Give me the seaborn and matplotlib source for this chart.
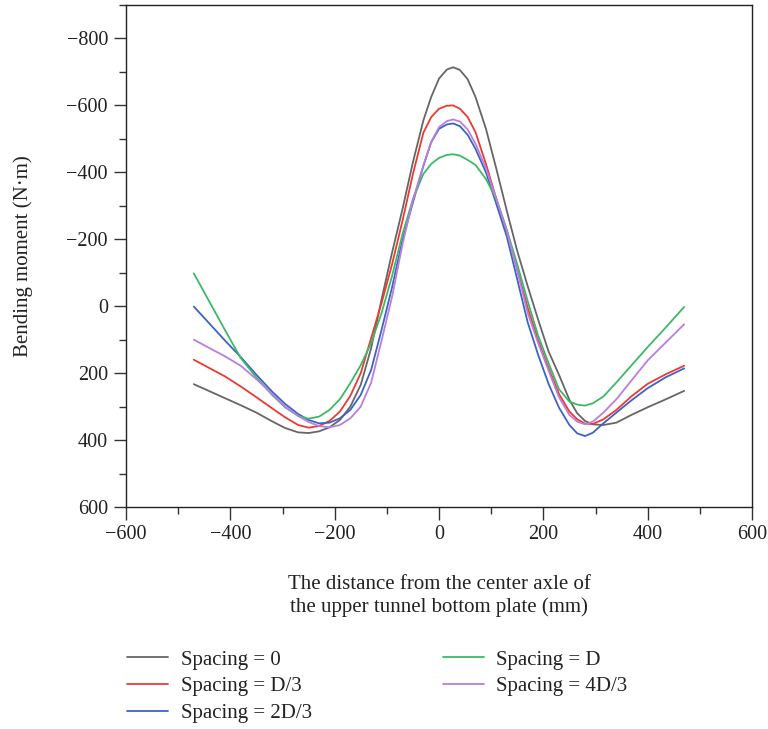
import matplotlib
matplotlib.use("Agg")
import matplotlib.pyplot as plt
from matplotlib.ticker import MultipleLocator
import pandas as pd
import seaborn as sns

# ---- data ----
x_mm = [-470, -440, -410, -380, -350, -320, -295, -270, -250, -230, -210, -190,
        -170, -150, -130, -110, -90, -70, -50, -30, -15, 0, 15, 27, 40, 55, 70,
        90, 110, 130, 150, 170, 190, 210, 230, 250, 265, 280, 295, 315, 340, 370,
        400, 435, 470]

spacing_0 = [233, 254, 275, 296, 318, 344, 364, 377, 379, 374, 362, 340,
             300, 235, 125, -21, -160, -290, -430, -555, -625, -680, -707, -714, -706, -678, -625,
             -530, -410, -285, -165, -60, 40, 135, 205, 280, 320, 343, 353, 355, 348, 324,
             302, 278, 253]

spacing_d3 = [160, 185, 210, 240, 272, 305, 332, 355, 363, 358, 343, 315,
              268, 200, 95, -10, -125, -255, -395, -518, -565, -590, -599, -600, -590, -565, -520,
              -425, -320, -225, -110, 5, 102, 185, 262, 315, 338, 351, 352, 338, 310, 268,
              232, 203, 178]

spacing_2d3 = [1, 52, 103, 152, 205, 255, 292, 322, 340, 350, 348, 335,
               310, 265, 190, 70, -56, -198, -310, -419, -490, -530, -543, -546, -538, -512, -470,
               -400, -305, -208, -80, 48, 145, 232, 303, 355, 380, 388, 378, 350, 318, 280,
               245, 212, 186]

spacing_d = [-98, -13, 72, 155, 213, 265, 302, 328, 336, 330, 310, 278,
             230, 176, 110, 20, -90, -215, -320, -395, -425, -443, -452, -454, -450, -437, -422,
             -380, -320, -228, -125, -15, 88, 170, 248, 285, 294, 297, 290, 270, 228, 175,
             122, 63, 2]

spacing_4d3 = [100, 125, 150, 178, 218, 262, 300, 328, 346, 358, 362, 355,
               335, 300, 228, 102, -28, -185, -318, -420, -490, -535, -553, -558, -552, -528, -485,
               -412, -320, -225, -105, 20, 110, 192, 272, 325, 345, 353, 345, 318, 278, 220,
               162, 108, 54]

series_labels = ["Spacing = 0", "Spacing = D/3", "Spacing = 2D/3",
                 "Spacing = D", "Spacing = 4D/3"]
series_values = [spacing_0, spacing_d3, spacing_2d3, spacing_d, spacing_4d3]
series_colors = ["#666666", "#ea3a32", "#3b64c4", "#3cb967", "#b97ee0"]

x_ticks = [-600, -400, -200, 0, 200, 400, 600]
y_ticks = [-800, -600, -400, -200, 0, 200, 400, 600]

# ---- long-form table ----
frames = []
for lab, vals in zip(series_labels, series_values):
    frames.append(pd.DataFrame({"x": x_mm, "y": vals, "series": lab}))
df = pd.concat(frames, ignore_index=True)

sns.set_theme(style="ticks")
plt.rcParams["font.family"] = ["Liberation Serif", "DejaVu Serif"]
plt.rcParams["axes.unicode_minus"] = True

fig = plt.figure(figsize=(7.68, 7.29), dpi=100)
ax = fig.add_axes([126 / 768, 1 - 507 / 729, (752 - 126) / 768, (507 - 5) / 729])

sns.lineplot(data=df, x="x", y="y", hue="series", hue_order=series_labels,
             palette=dict(zip(series_labels, series_colors)),
             sort=False, estimator=None, linewidth=1.3, ax=ax)

ax.set_xlim(-600, 600)
ax.set_ylim(600, -900)
ax.set_xticks(x_ticks)
ax.set_yticks(y_ticks)
ax.xaxis.set_minor_locator(MultipleLocator(100))
ax.yaxis.set_minor_locator(MultipleLocator(100))
ax.tick_params(axis="both", which="major", direction="out", length=9, width=1.0,
               labelsize=14.5, colors="#333333", labelcolor="#222222", pad=4)
ax.tick_params(axis="both", which="minor", direction="out", length=5, width=1.0,
               colors="#333333")
ax.tick_params(top=False, right=False, which="both")
for s in ax.spines.values():
    s.set_visible(True)
    s.set_color("#222222")
    s.set_linewidth(1.0)

ax.set_xlabel("The distance from the center axle of\nthe upper tunnel bottom plate (mm)",
              fontsize=15, color="#222222", labelpad=22, linespacing=1.25)
ax.set_ylabel("Bending moment (N·m)", fontsize=15, color="#222222", labelpad=24)

handles, labels = ax.get_legend_handles_labels()
if ax.get_legend() is not None:
    ax.get_legend().remove()
fig.legend(handles, labels, loc="upper left", bbox_to_anchor=(127 / 768, 1 - 650 / 729),
           ncol=2, frameon=False, fontsize=15, handlelength=1.95, handletextpad=0.62,
           columnspacing=6.3, labelspacing=0.35, borderpad=0, borderaxespad=0,
           labelcolor="#222222")

fig.savefig("out.png", dpi=100)
